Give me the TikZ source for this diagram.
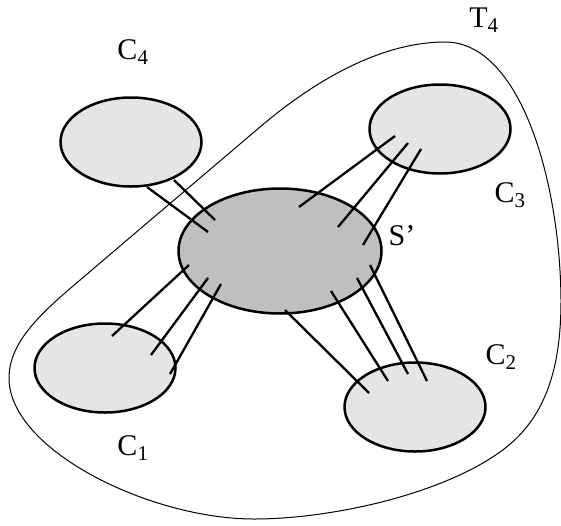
\documentclass[tikz,border=0pt]{standalone}
\usepackage{fontspec}
\setmainfont{Liberation Serif}
\usepackage{tikz}
\usetikzlibrary{shapes.geometric,calc}

\begin{document}
\begin{tikzpicture}[x=1pt, y=-1pt,
  every node/.style={font=\fontsize{30}{36}\selectfont},
  cluster/.style={draw, ellipse, line width=2.5pt, fill=black!10, inner sep=0pt, minimum width=141pt, minimum height=89pt},
  core/.style={draw, ellipse, line width=2.5pt, fill=black!25, inner sep=0pt, minimum width=203pt, minimum height=125pt},
  link/.style={line width=2.3pt},
  region/.style={line width=1pt}
]
  \useasboundingbox (0,0) rectangle (561,525);

  % region T4
  \draw[region] (9,378) .. controls (9,335) and (55,302) .. (100,263)
    -- (260,127) .. controls (320,76) and (385,42) .. (445,42)
    .. controls (520,42) and (560,180) .. (561,300)
    .. controls (561,370) and (545,420) .. (500,452)
    .. controls (440,495) and (330,519) .. (254,519)
    .. controls (150,519) and (9,450) .. cycle;

  \node[core] (s) at (280,251) {};
  \node[cluster] (c4) at (131,142) {};
  \node[cluster] (c3) at (440,129) {};
  \node[cluster] (c1) at (105,368) {};
  \node[cluster] (c2) at (415,407) {};

  \node (ls) at (402,236) {S’};
  \node (lc4) at (133,52) {C\textsubscript{4}};
  \node (lc3) at (510,195) {C\textsubscript{3}};
  \node (lc2) at (501,357) {C\textsubscript{2}};
  \node (lc1) at (133,448) {C\textsubscript{1}};
  \node (lt4) at (484,20) {T\textsubscript{4}};

  % C4 -- S'
  \draw[link] ($(c4)+(16,45)$) -- ($(s)+(-72,-19)$);
  \draw[link] ($(c4)+(43,38)$) -- ($(s)+(-65,-31)$);
  % C3 -- S'
  \draw[link] ($(c3)+(-45,7)$) -- ($(s)+(19,-44)$);
  \draw[link] ($(c3)+(-32,14)$) -- ($(s)+(58,-24)$);
  \draw[link] ($(c3)+(-19,20)$) -- ($(s)+(83,-6)$);
  % C1 -- S'
  \draw[link] ($(c1)+(7,-32)$) -- ($(s)+(-91,14)$);
  \draw[link] ($(c1)+(46,-13)$) -- ($(s)+(-72,27)$);
  \draw[link] ($(c1)+(65,6)$) -- ($(s)+(-59,33)$);
  % C2 -- S'
  \draw[link] ($(c2)+(-46,-14)$) -- ($(s)+(5,59)$);
  \draw[link] ($(c2)+(-27,-26)$) -- ($(s)+(51,40)$);
  \draw[link] ($(c2)+(-7,-33)$) -- ($(s)+(77,27)$);
  \draw[link] ($(c2)+(12,-26)$) -- ($(s)+(90,14)$);
\end{tikzpicture}
\end{document}
